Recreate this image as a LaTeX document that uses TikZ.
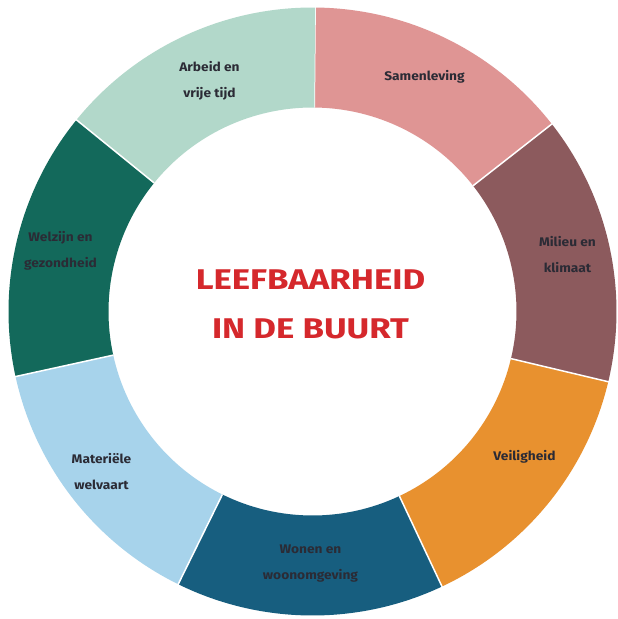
\documentclass[tikz,border=0pt]{standalone}
\usepackage{fontspec}
\setmainfont{Fira Sans}
\newfontfamily\titlefont[FakeStretch=1.22]{Fira Sans}
\newfontfamily\labelfont[FakeStretch=1.1]{Fira Sans}
\usetikzlibrary{positioning}
\definecolor{samenleving}{HTML}{DF9594}
\definecolor{milieu}{HTML}{8C5A5D}
\definecolor{veiligheid}{HTML}{E8912F}
\definecolor{wonen}{HTML}{175E7F}
\definecolor{welvaart}{HTML}{A7D3EB}
\definecolor{welzijn}{HTML}{13695B}
\definecolor{arbeid}{HTML}{B2D8CA}
\definecolor{titlered}{HTML}{D5282C}
\definecolor{labeltext}{HTML}{2B2B35}

\begin{document}
\begin{tikzpicture}[
  x=1pt, y=1pt,
  sep/.style   = {draw=white, line width=1.5pt},
  lbl/.style   = {font=\labelfont\bfseries\fontsize{12.5}{26}\selectfont,
                  text=labeltext, align=center, inner sep=0pt},
  title/.style = {font=\titlefont\bfseries\fontsize{28.5}{49}\selectfont,
                  text=titlered, align=center, inner sep=0pt},
]
\useasboundingbox[fill=white] (-312.5,-307.5) rectangle (305.5,311.5);
\def\rout{304}
\def\rin{204}
% ring segments, clockwise from the top
\foreach \a/\c in {89.5/samenleving, 38.071/milieu, -13.357/veiligheid,
                   -64.786/wonen, -116.214/welvaart, -167.643/welzijn,
                   -219.071/arbeid}{
  \fill[\c] (\a:\rout) arc[start angle=\a, end angle={\a-51.429}, radius=\rout]
    -- ({\a-51.429}:\rin) arc[start angle={\a-51.429}, end angle=\a, radius=\rin]
    -- cycle;
  \draw[sep] (\a:\rin) -- (\a:\rout+2);
}
\node[title] (centre) at (-2,7) {LEEFBAARHEID\\IN DE BUURT};
\node[lbl] (samen)  at (112,235)   {Samenleving};
\node[lbl] (milieu) at (255,57)    {Milieu en\\klimaat};
\node[lbl] (veilig) at (212,-145)  {Veiligheid};
\node[lbl] (wonen)  at (-2,-252)   {Wonen en\\woonomgeving};
\node[lbl] (welv)   at (-211,-160) {Materiële\\welvaart};
\node[lbl] (welz)   at (-252,61)   {Welzijn en\\gezondheid};
\node[lbl] (arbeid) at (-103,231)  {Arbeid en\\vrije tijd};
\end{tikzpicture}
\end{document}
